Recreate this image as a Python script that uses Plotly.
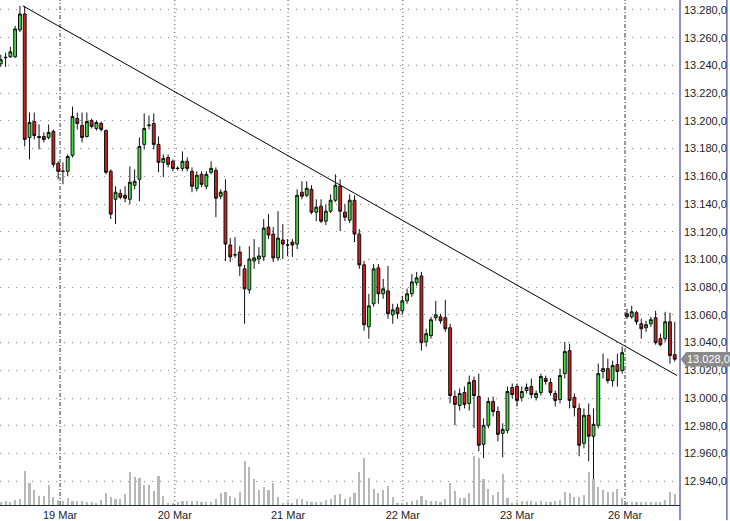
import plotly.graph_objects as go

# ---- data (hourly candles, 18-26 Mar) ----
opens = [13241.2,13245.5,13246.2,13246.2,13265.6,13277.1,13188.0,13199.5,13188.7,13188.7,
         13188.0,13192.3,13169.3,13163.6,13163.6,13175.1,13201.7,13196.6,13188.7,13200.2,
         13194.5,13198.1,13193.0,13163.6,13143.4,13147.7,13146.3,13143.4,13153.5,13157.8,
         13183.0,13196.6,13198.1,13183.0,13170.0,13173.6,13170.8,13165.7,13165.7,13170.8,
         13163.6,13151.3,13161.4,13152.8,13162.9,13164.3,13145.6,13149.2,13110.4,13103.3,
         13105.3,13093.2,13078.0,13098.9,13100.3,13101.8,13123.3,13118.3,13101.1,13114.0,
         13110.4,13112.5,13111.1,13148.5,13146.3,13150.6,13134.1,13138.4,13127.6,13134.8,
         13142.7,13152.8,13134.1,13128.3,13142.7,13118.3,13096.1,13051.4,13068.0,13093.9,
         13075.2,13077.3,13060.0,13065.1,13062.9,13070.1,13075.2,13083.1,13088.1,13040.6,
         13045.0,13057.9,13058.6,13057.9,13050.7,13001.1,12994.6,13004.0,12996.1,13012.6,
         13001.1,12966.6,12980.3,12997.5,12990.3,12974.5,12976.7,13007.6,13008.3,13000.4,
         13005.4,13008.3,13000.4,13004.0,13014.1,13011.2,13003.3,12998.9,13017.6,13034.2,
         13000.4,12992.5,12967.3,12987.5,12972.4,12980.3,13019.1,13021.2,13012.6,13024.1,
         13019.8,13060.8,13058.6,13061.5,13053.6,13050.7,13053.6,13057.9,13042.8,13042.8,
         13055.0,13031.3]
highs = [13247.7,13249.1,13253.4,13268.5,13282.9,13282.9,13206.0,13206.0,13197.4,13191.6,
         13197.4,13193.8,13170.8,13170.0,13175.8,13210.3,13206.0,13206.0,13206.0,13201.7,
         13200.2,13199.5,13193.8,13165.0,13152.8,13150.6,13152.8,13167.2,13165.0,13188.0,
         13205.3,13203.8,13205.3,13188.7,13175.8,13175.8,13172.2,13167.2,13177.9,13173.6,
         13166.4,13163.6,13163.6,13163.6,13170.8,13166.4,13150.6,13157.8,13115.4,13116.1,
         13109.6,13096.1,13109.6,13114.7,13108.9,13129.1,13132.7,13123.3,13134.8,13125.5,
         13114.7,13114.7,13150.6,13156.4,13156.4,13153.5,13143.4,13143.4,13139.8,13147.0,
         13161.4,13157.8,13139.8,13147.0,13146.3,13121.9,13098.9,13075.2,13096.7,13096.7,
         13086.0,13095.3,13068.0,13068.0,13073.7,13079.0,13089.5,13091.0,13091.0,13050.0,
         13058.6,13070.1,13060.8,13070.8,13053.6,13005.4,13006.9,13008.3,13016.2,13015.5,
         13017.6,12985.3,13000.4,13001.1,12993.9,12981.7,13008.3,13010.5,13010.5,13008.3,
         13010.5,13014.1,13005.4,13017.6,13016.2,13014.1,13005.4,13021.2,13040.6,13039.2,
         13003.3,12996.1,12992.5,12996.1,12992.5,13024.8,13032.0,13028.4,13027.0,13032.0,
         13037.1,13064.4,13066.5,13062.9,13057.2,13055.7,13058.6,13062.9,13046.4,13062.2,
         13061.5,13055.0]
lows = [13239.0,13239.0,13245.5,13245.5,13264.0,13181.5,13172.2,13186.6,13179.4,13184.4,
        13186.6,13166.4,13157.8,13154.2,13160.0,13173.6,13193.8,13184.4,13188.0,13194.5,
        13193.0,13192.3,13161.4,13129.1,13125.5,13143.4,13141.3,13139.8,13150.6,13142.0,
        13179.4,13193.8,13179.4,13162.9,13159.3,13166.4,13163.6,13164.3,13163.6,13163.6,
        13148.5,13149.2,13152.1,13150.6,13161.4,13130.5,13143.4,13098.9,13098.2,13101.1,
        13088.1,13053.6,13075.2,13093.2,13096.7,13098.9,13114.7,13098.2,13098.9,13100.3,
        13102.5,13101.8,13107.5,13143.4,13144.9,13132.7,13127.6,13126.2,13124.8,13133.4,
        13141.3,13120.4,13127.6,13126.2,13112.5,13093.2,13048.6,13042.8,13065.8,13068.0,
        13071.6,13057.2,13053.6,13057.2,13060.0,13068.0,13073.0,13080.9,13034.2,13037.1,
        13042.8,13055.7,13053.6,13047.8,12996.1,12980.3,12991.0,12992.5,12991.0,12978.1,
        12961.6,12956.6,12978.1,12986.7,12968.8,12957.3,12974.5,12999.7,12993.9,12997.5,
        13003.3,12999.7,12998.2,13001.8,13009.7,13001.8,12993.9,12996.1,13014.1,12992.5,
        12986.7,12958.0,12963.7,12954.4,12930.7,12978.1,13014.1,13010.5,13008.3,13008.3,
        13017.6,13057.2,13057.2,13052.9,13042.8,13047.8,13051.4,13038.5,13037.1,13040.6,
        13024.8,13026.3]
closes = [13244.1,13245.8,13249.8,13266.3,13277.1,13186.6,13198.8,13189.4,13188.0,13186.6,
          13191.6,13168.6,13163.6,13163.6,13174.3,13203.1,13198.1,13188.0,13199.5,13195.9,
          13198.8,13193.8,13162.9,13132.7,13148.5,13144.9,13144.2,13155.7,13156.4,13181.5,
          13194.5,13196.9,13183.0,13170.0,13172.9,13168.6,13165.7,13165.7,13170.8,13165.7,
          13152.8,13160.7,13154.2,13161.4,13165.7,13144.2,13148.5,13111.1,13101.8,13103.3,
          13095.3,13078.8,13100.3,13101.1,13102.5,13122.6,13117.6,13101.1,13115.4,13111.1,
          13110.4,13110.4,13146.3,13145.6,13151.3,13134.1,13137.7,13127.6,13134.8,13142.7,
          13153.5,13134.8,13130.5,13142.7,13118.3,13096.1,13052.9,13066.5,13093.2,13075.2,
          13078.8,13060.8,13063.6,13060.8,13070.1,13075.2,13083.8,13086.7,13039.9,13046.4,
          13056.5,13060.0,13055.7,13050.0,13001.8,12995.4,13003.3,12995.4,13011.2,13001.8,
          12965.9,12980.3,12997.5,12990.3,12973.8,12977.4,13004.7,13002.5,12998.2,13004.7,
          13007.6,13002.5,13003.3,13015.5,13011.9,13004.0,12998.2,13016.2,13033.5,12998.2,
          12993.2,12965.9,12987.5,12972.4,12981.0,13017.6,13021.2,13012.6,13023.4,13019.1,
          13032.7,13058.6,13062.2,13055.0,13050.0,13052.9,13056.5,13039.9,13038.5,13055.0,
          13030.6,13028.0]
volumes = [33,40,33,50,60,340,220,150,90,90,200,80,50,40,70,40,40,40,30,30,
           20,50,120,80,60,60,110,330,280,270,200,200,140,290,90,20,20,30,40,40,
           40,40,30,30,30,60,120,130,90,70,130,440,380,260,150,180,150,220,80,20,
           30,20,60,60,40,30,30,30,50,60,100,110,60,80,120,330,470,270,160,120,
           150,190,80,20,20,30,40,50,90,50,40,40,30,60,220,140,70,70,120,490,
           470,260,160,100,130,310,70,20,30,40,40,40,30,40,30,30,40,50,130,120,
           80,80,100,330,260,180,150,130,130,160,70,30,30,30,30,30,30,30,30,50,
           130,110]

day_labels = ["19 Mar", "20 Mar", "21 Mar", "22 Mar", "23 Mar", "26 Mar"]
day_ticks = [12.4, 36.4, 60.1, 84.1, 108.0, 130.6]
week_start = [True, False, False, False, False, True]

trend_x = [4.6, 141.5]
trend_y = [13283.0, 13016.2]

price_ticks = list(range(12940, 13281, 20))

idx = list(range(len(opens)))
last_close = closes[-1]

FONT = "Liberation Sans, Arial, sans-serif"
NAVY = "#1f1f8f"

fig = go.Figure()

fig.add_trace(go.Bar(
    x=idx, y=volumes, yaxis="y2", width=0.45,
    marker=dict(color="#b8b8b8", line=dict(width=0)),
    showlegend=False, hoverinfo="skip"))

fig.add_trace(go.Candlestick(
    x=idx, open=opens, high=highs, low=lows, close=closes,
    increasing=dict(fillcolor="#3ce03c", line=dict(color="#101010", width=1)),
    decreasing=dict(fillcolor="#d81c1c", line=dict(color="#101010", width=1)),
    whiskerwidth=0, showlegend=False))

fig.add_trace(go.Scatter(
    x=trend_x, y=trend_y, mode="lines",
    line=dict(color="#000000", width=1), showlegend=False, hoverinfo="skip"))

shapes = []
for pos, wk in zip(day_ticks, week_start):
    shapes.append(dict(
        type="line", xref="x", yref="paper", x0=pos, x1=pos, y0=0, y1=1,
        line=dict(color="#333333" if wk else "#555555", width=1,
                  dash="4px,2px,1px,2px" if wk else "1px,3px"),
        layer="below"))
# right frame lines
shapes.append(dict(type="line", xref="paper", yref="paper", x0=1, x1=1,
                   y0=-0.03, y1=1, line=dict(color=NAVY, width=1)))
shapes.append(dict(type="line", xref="paper", yref="paper", x0=1.069, x1=1.069,
                   y0=-0.03, y1=1, line=dict(color=NAVY, width=1)))
# last price tag
shapes.append(dict(type="path", xref="paper", yref="y",
                   path=f"M 1.001,{last_close} L 1.009,{last_close+5.2} L 1.075,{last_close+5.2} "
                        f"L 1.075,{last_close-5.2} L 1.009,{last_close-5.2} Z",
                   fillcolor="#8a8a8a", line=dict(width=0)))

tag_text = f"{last_close:,.1f}".replace(",", "X").replace(".", ",").replace("X", ".")

fig.update_layout(
    width=730, height=521,
    margin=dict(l=0, r=50, t=0, b=14),
    paper_bgcolor="white", plot_bgcolor="white",
    separators=",.",
    boxgap=0.15, bargap=0,
    font=dict(family=FONT, size=11, color="#222222"),
    shapes=shapes,
    annotations=[dict(xref="paper", yref="y", x=1.008, y=last_close,
                      text=tag_text,
                      showarrow=False, xanchor="left", yanchor="middle",
                      font=dict(color="white", size=11, family=FONT))],
    xaxis=dict(range=[-0.17, 142.1], rangeslider=dict(visible=False),
               tickvals=day_ticks, ticktext=day_labels, showgrid=False,
               zeroline=False, showline=True, linecolor=NAVY, linewidth=1,
               ticks="", ticklabelstandoff=0),
    yaxis=dict(range=[12922.8, 13287.2], side="right", tickvals=price_ticks,
               tickformat=",.1f", showgrid=True, gridcolor="#8a8a8a", gridwidth=1,
               griddash="1px,7px", zeroline=False, showline=False, ticks="",
               ticklabelstandoff=3),
    yaxis2=dict(range=[0, 5070], overlaying="y", visible=False, showgrid=False),
)

fig.write_html("out.html", config={"displayModeBar": False},
               post_script="document.body.style.margin='0px';document.body.style.overflow='hidden';")
